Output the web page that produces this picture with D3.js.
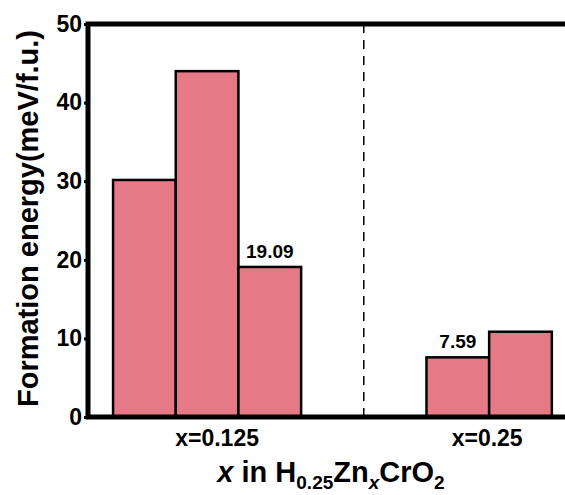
<!DOCTYPE html>
<html>
<head>
<meta charset="utf-8">
<script src="https://cdn.jsdelivr.net/npm/d3@7"></script>
<style>
  body { margin: 0; background: #fff; }
  text { font-family: "Liberation Sans", Arial, sans-serif; font-weight: bold; }
</style>
</head>
<body>
<div id="chart"></div>
<script>
// chart data
const groups = ["x=0.125", "x=0.25"];
const groupValues = [[30.16, 44.0, 19.09], [7.59, 10.85]];
const labeledBars = [[2, "19.09"], [0, "7.59"]];  // per group: bar index, label
const yTicks = [0, 10, 20, 30, 40, 50];

const width = 565, height = 495;
const svg = d3.select("#chart").append("svg")
    .attr("width", width)
    .attr("height", height);

// bars sit in slots, groups separated by a 2-slot gap
const gap = 2;
const slotStarts = [];
let s = 0;
groupValues.forEach(vals => { slotStarts.push(s); s += vals.length + gap; });

const x = d3.scaleLinear().domain([-0.4, 7.21]).range([88, 565]);
const y = d3.scaleLinear().domain([0, 50]).range([417, 24]);

const bars = [];
groupValues.forEach((vals, g) => {
    vals.forEach((v, i) => bars.push({ g: g, slot: slotStarts[g] + i, value: v }));
});

// bars
svg.append("g").selectAll("rect")
    .data(bars)
    .join("rect")
    .attr("x", d => x(d.slot))
    .attr("y", d => y(d.value))
    .attr("width", x(1) - x(0))
    .attr("height", d => y(0) - y(d.value))
    .attr("fill", "#e57a86")
    .attr("stroke", "#000")
    .attr("stroke-width", 2.5);

// value labels
labeledBars.forEach(([i, txt], g) => {
    const v = groupValues[g][i];
    svg.append("text")
        .attr("x", x(slotStarts[g] + i + 0.5))
        .attr("y", y(v) - 9)
        .attr("text-anchor", "middle")
        .attr("font-size", 19)
        .text(txt);
});

// dashed divider between groups
const divider = slotStarts[0] + groupValues[0].length + gap / 2;
svg.append("line")
    .attr("x1", x(divider)).attr("x2", x(divider))
    .attr("y1", y(50)).attr("y2", y(0))
    .attr("stroke", "#000")
    .attr("stroke-width", 1.5)
    .attr("stroke-dasharray", "9,7");

// y axis
const yAxis = svg.append("g")
    .attr("transform", `translate(${x(-0.4)},0)`)
    .call(d3.axisLeft(y).tickValues(yTicks).tickSize(4).tickPadding(2));
yAxis.select(".domain").remove();
yAxis.selectAll(".tick line").attr("stroke-width", 3);
yAxis.selectAll(".tick text")
    .attr("font-size", 23)
    .attr("font-family", "Liberation Sans, Arial, sans-serif")
    .attr("font-weight", "bold")
    .attr("fill", "#000");

// frame: left, bottom, top
const frame = svg.append("g").attr("stroke", "#000").attr("stroke-width", 5).attr("fill", "none");
frame.append("path")
    .attr("d", `M${x(7.21)},${y(50)}H${x(-0.4)}V${y(0)}H${x(7.21)}`);

// group labels
groups.forEach((name, g) => {
    const c = slotStarts[g] + groupValues[g].length / 2;
    svg.append("text")
        .attr("x", x(c) + (g === 0 ? 10 : -2))
        .attr("y", 446)
        .attr("text-anchor", "middle")
        .attr("font-size", 23)
        .text(name);
});

// y title
svg.append("text")
    .attr("transform", `translate(38,${(y(0) + y(50)) / 2 - 2}) rotate(-90)`)
    .attr("text-anchor", "middle")
    .attr("font-size", 29)
    .text("Formation energy(meV/f.u.)");

// x title with subscripts
const xt = svg.append("text")
    .attr("x", 331)
    .attr("y", 482)
    .attr("text-anchor", "middle")
    .attr("font-size", 29);
xt.append("tspan").attr("font-style", "italic").text("x");
xt.append("tspan").text(" in H");
xt.append("tspan").attr("font-size", 19).attr("dy", 7).text("0.25");
xt.append("tspan").attr("dy", -7).text("Zn");
xt.append("tspan").attr("font-size", 19).attr("font-style", "italic").attr("dy", 7).text("x");
xt.append("tspan").attr("dy", -7).text("CrO");
xt.append("tspan").attr("font-size", 19).attr("dy", 7).text("2");
</script>
</body>
</html>
